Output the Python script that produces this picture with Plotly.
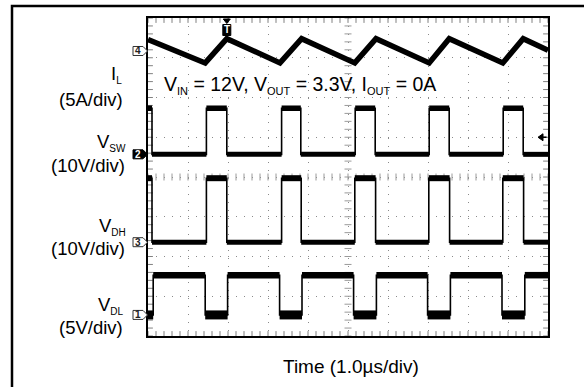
import numpy as np
import plotly.graph_objects as go

# ---------------- data ----------------
# time axis: 10 divisions, 1.0 us/div
time_div_us = 1.0

# Inductor current I_L (channel 4, 5 A/div) - peak / valley corners
t_il = [0.0, 1.43, 1.97, 3.30, 3.84, 5.17, 5.70, 7.03, 7.53, 8.87, 9.38, 10.0]
il_amps = [1.45, -1.50, 1.55, -1.50, 1.55, -1.50, 1.55, -1.50, 1.55, -1.50, 1.55, 0.10]

# Switch node V_SW (channel 2, 10 V/div): toggle times, starts high
vsw_edges = [0.10, 1.46, 1.97, 3.34, 3.82, 5.18, 5.68, 7.03, 7.53, 8.88, 9.38]
vsw_levels = [0.0, 11.6]          # low, high (V)

# High-side gate V_DH (channel 3, 10 V/div): toggle times, starts high
vdh_edges = [0.10, 1.46, 1.97, 3.34, 3.83, 5.17, 5.69, 7.02, 7.54, 8.87, 9.39]
vdh_levels = [0.0, 16.1]

# Low-side gate V_DL (channel 1, 5 V/div): toggle times, starts low
vdl_edges = [0.13, 1.43, 1.99, 3.29, 3.85, 5.14, 5.71, 6.99, 7.56, 8.85, 9.42]
vdl_levels = [0.0, 5.0]

# channel scales (units/div) and ground offsets (div from screen centre)
ch_scale = {"IL": 5.0, "VSW": 10.0, "VDH": 10.0, "VDL": 5.0}
ch_offset = {"IL": 3.17, "VSW": 0.57, "VDH": -1.64, "VDL": -3.47}
ch_number = {"IL": "4", "VSW": "2", "VDH": "3", "VDL": "1"}

trigger_level_v = 4.3   # V on channel 2

# ---------------- helpers ----------------
T_END = 10 * time_div_us
L, R, T, B = 148, 36, 18, 51
W, H = 584, 387
PW, PH = W - L - R, H - T - B


def xp(px):
    return (px - L) / PW


def yp(py):
    return (H - B - py) / PH


def to_div(vals, ch):
    return [v / ch_scale[ch] + ch_offset[ch] for v in vals]


def step_wave(edges, levels, start_high):
    state = start_high
    xs, ys = [0.0], [levels[1] if state else levels[0]]
    for e in edges:
        xs += [e, e]
        ys += [levels[1] if state else levels[0]]
        state = not state
        ys += [levels[1] if state else levels[0]]
    xs.append(T_END)
    ys.append(levels[1] if state else levels[0])
    return xs, ys


def plateaus(edges, levels, start_high):
    bounds = [0.0] + list(edges) + [T_END]
    hi_x, hi_y, lo_x, lo_y = [], [], [], []
    state = start_high
    for a, b in zip(bounds[:-1], bounds[1:]):
        if state:
            hi_x += [a, b, None]
            hi_y += [levels[1], levels[1], None]
        else:
            lo_x += [a, b, None]
            lo_y += [levels[0], levels[0], None]
        state = not state
    return (hi_x, hi_y), (lo_x, lo_y)


def conv(ys, ch):
    return [None if v is None else v / ch_scale[ch] + ch_offset[ch] for v in ys]


fig = go.Figure()

# ---------------- graticule ticks ----------------
minor_x = np.arange(0, T_END + 1e-9, 0.2)
minor_y = np.arange(-4, 4 + 1e-9, 0.2)
tick_col = "#808080"
for yy in (-4, 4):
    fig.add_trace(go.Scatter(x=minor_x, y=[yy] * len(minor_x), mode="markers",
                             marker=dict(symbol="line-ns", size=7, line=dict(width=1, color=tick_col)),
                             hoverinfo="skip"))
for xx in (0, T_END):
    fig.add_trace(go.Scatter(x=[xx] * len(minor_y), y=minor_y, mode="markers",
                             marker=dict(symbol="line-ew", size=7, line=dict(width=1, color=tick_col)),
                             hoverinfo="skip"))
fig.add_trace(go.Scatter(x=minor_x, y=[0] * len(minor_x), mode="markers",
                         marker=dict(symbol="line-ns", size=5, line=dict(width=1, color="#9a9a9a")),
                         hoverinfo="skip"))
fig.add_trace(go.Scatter(x=[T_END / 2] * len(minor_y), y=minor_y, mode="markers",
                         marker=dict(symbol="line-ew", size=5, line=dict(width=1, color="#9a9a9a")),
                         hoverinfo="skip"))

# ---------------- waveforms ----------------
fig.add_trace(go.Scatter(x=t_il, y=to_div(il_amps, "IL"), mode="lines",
                         line=dict(color="black", width=5.5), hoverinfo="skip"))

square = [
    ("VSW", vsw_edges, vsw_levels, True, 5.5, 5.0),
    ("VDH", vdh_edges, vdh_levels, True, 6.0, 5.0),
    ("VDL", vdl_edges, vdl_levels, False, 6.5, 9.0),
]
for ch, edges, levels, start_high, w_hi, w_lo in square:
    xs, ys = step_wave(edges, levels, start_high)
    fig.add_trace(go.Scatter(x=xs, y=to_div(ys, ch), mode="lines",
                             line=dict(color="black", width=1.6), hoverinfo="skip"))
    (hx, hy), (lx, ly) = plateaus(edges, levels, start_high)
    fig.add_trace(go.Scatter(x=hx, y=conv(hy, ch), mode="lines",
                             line=dict(color="black", width=w_hi), hoverinfo="skip"))
    fig.add_trace(go.Scatter(x=lx, y=conv(ly, ch), mode="lines",
                             line=dict(color="black", width=w_lo), hoverinfo="skip"))

# ---------------- axes ----------------
axis_common = dict(showticklabels=False, ticks="", zeroline=False, showgrid=True,
                   gridcolor="#8a8a8a", gridwidth=1, griddash="1px,7px",
                   showline=True, mirror=True, linecolor="black", linewidth=2,
                   fixedrange=True)
fig.update_xaxes(range=[0, T_END], dtick=1, tick0=0, **axis_common)
fig.update_yaxes(range=[-4, 4], dtick=1, tick0=0, **axis_common)

FONT = "Liberation Sans, Arial, sans-serif"
shapes = []
annotations = []

# outer frame
shapes.append(dict(type="rect", xref="paper", yref="paper",
                   x0=xp(12), x1=xp(620), y0=yp(420), y1=yp(6),
                   line=dict(color="black", width=2.5), fillcolor="rgba(0,0,0,0)", layer="above"))

# channel ground markers
for ch in ("IL", "VSW", "VDH", "VDL"):
    yc = (ch_offset[ch] + 4) / 8
    hh = 4.5 / PH
    x0, x1, x2 = xp(133), xp(143), xp(147.5)
    filled = ch == "VSW"
    path = (f"M {x0} {yc - hh} L {x1} {yc - hh} L {x2} {yc} L {x1} {yc + hh} "
            f"L {x0} {yc + hh} Z")
    shapes.append(dict(type="path", xref="paper", yref="paper", path=path,
                       line=dict(color="#333" if not filled else "black", width=1),
                       fillcolor="black" if filled else "white"))
    annotations.append(dict(xref="paper", yref="paper", x=xp(138.3), y=yc,
                            text=f"<b>{ch_number[ch]}</b>", showarrow=False,
                            font=dict(family=FONT, size=10, color="white" if filled else "#222"),
                            xanchor="center", yanchor="middle"))

# trigger position marker (T) at first current peak
tx = t_il[2] / T_END
shapes.append(dict(type="path", xref="paper", yref="paper",
                   path=f"M {tx - 3.5 / PW} {yp(19)} L {tx + 3.5 / PW} {yp(19)} L {tx} {yp(23.5)} Z",
                   fillcolor="black", line=dict(color="black", width=1)))
shapes.append(dict(type="rect", xref="paper", yref="paper",
                   x0=tx - 4 / PW, x1=tx + 4 / PW, y0=yp(35.5), y1=yp(24.5),
                   fillcolor="black", line=dict(color="black", width=1)))
annotations.append(dict(xref="paper", yref="paper", x=tx, y=yp(30), text="<b>T</b>",
                        showarrow=False, font=dict(family=FONT, size=10, color="white"),
                        xanchor="center", yanchor="middle"))

# trigger level arrow on the right
ty = ((trigger_level_v / ch_scale["VSW"]) + ch_offset["VSW"] + 4) / 8
shapes.append(dict(type="path", xref="paper", yref="paper",
                   path=(f"M {xp(538)} {ty} L {xp(543)} {ty + 3.5 / PH} "
                         f"L {xp(543)} {ty - 3.5 / PH} Z"),
                   fillcolor="black", line=dict(color="black", width=1)))
shapes.append(dict(type="line", xref="paper", yref="paper",
                   x0=xp(542), x1=xp(546.5), y0=ty, y1=ty,
                   line=dict(color="black", width=1.5)))

# channel labels
LBL = 18.5
SUBSPAN = '<sub><span style="font-size:10px">{}</span></sub>'
labels = [
    ("I" + SUBSPAN.format("L"), 75, 124),
    ("(5A/div)", 99, 124.5),
    ("V" + SUBSPAN.format("SW"), 142, 128),
    ("(10V/div)", 165.5, 127),
    ("V" + SUBSPAN.format("DH"), 226, 128),
    ("(10V/div)", 249, 127),
    ("V" + SUBSPAN.format("DL"), 305, 126),
    ("(5V/div)", 327, 124.5),
]
for txt, ypx, xr in labels:
    annotations.append(dict(xref="paper", yref="paper", x=xp(xr), y=yp(ypx), text=txt,
                            showarrow=False, xanchor="right", yanchor="middle",
                            font=dict(family=FONT, size=LBL, color="black")))

SUB2 = '<sub><span style="font-size:11px">{}</span></sub>'
cond = (f"V{SUB2.format('IN')} = 12V, V{SUB2.format('OUT')} = 3.3V, "
        f"I{SUB2.format('OUT')} = 0A")
annotations.append(dict(xref="paper", yref="paper", x=xp(162), y=yp(85), text=cond,
                        showarrow=False, xanchor="left", yanchor="middle",
                        font=dict(family=FONT, size=19.5, color="black")))

annotations.append(dict(xref="paper", yref="paper", x=xp(351), y=yp(366), text="Time (1.0µs/div)",
                        showarrow=False, xanchor="center", yanchor="middle",
                        font=dict(family=FONT, size=19, color="black")))

fig.update_layout(width=W, height=H, margin=dict(l=L, r=R, t=T, b=B),
                  paper_bgcolor="white", plot_bgcolor="white", showlegend=False,
                  shapes=shapes, annotations=annotations)

fig.write_html("out.html", config={"displayModeBar": False},
               post_script="document.body.style.margin='0';")
